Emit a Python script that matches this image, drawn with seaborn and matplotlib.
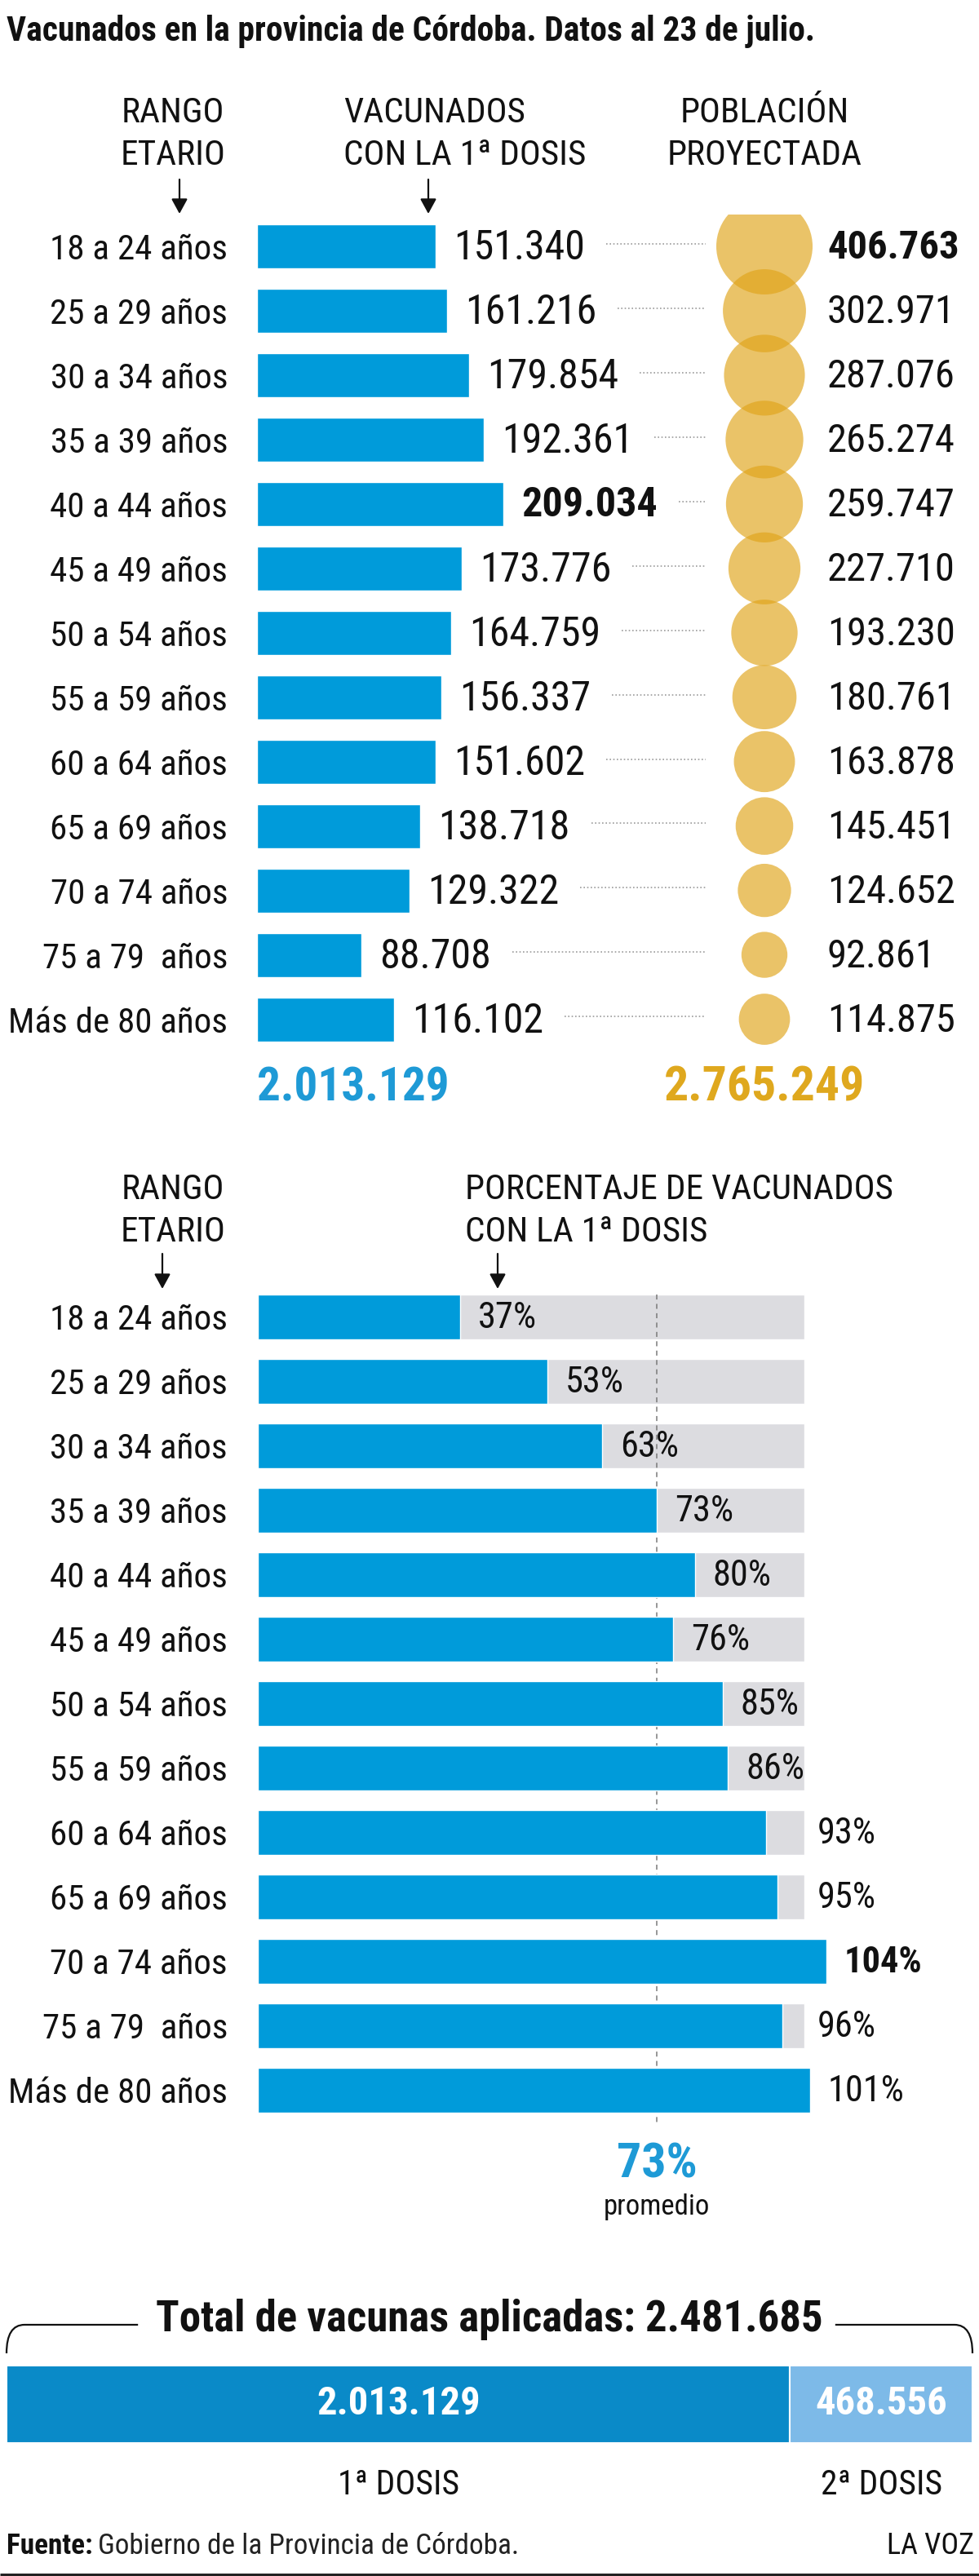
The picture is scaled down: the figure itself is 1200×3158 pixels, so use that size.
import matplotlib
matplotlib.use("Agg")
import matplotlib.pyplot as plt
import matplotlib.transforms as mtransforms
from matplotlib.path import Path
from matplotlib.patches import PathPatch
from matplotlib import font_manager as fm
import numpy as np
import pandas as pd
import seaborn as sns

# ---------------- DATA ----------------
age_groups = ["18 a 24 años", "25 a 29 años", "30 a 34 años", "35 a 39 años",
              "40 a 44 años", "45 a 49 años", "50 a 54 años", "55 a 59 años",
              "60 a 64 años", "65 a 69 años", "70 a 74 años", "75 a 79  años",
              "Más de 80 años"]
vaccinated_1st = [151340, 161216, 179854, 192361, 209034, 173776, 164759,
                  156337, 151602, 138718, 129322, 88708, 116102]
projected_pop = [406763, 302971, 287076, 265274, 259747, 227710, 193230,
                 180761, 163878, 145451, 124652, 92861, 114875]
pct_vaccinated = [37, 53, 63, 73, 80, 76, 85, 86, 93, 95, 104, 96, 101]
full_pct = 100
total_vaccinated_1st = 2013129
total_projected = 2765249
average_pct = 73
first_doses = 2013129
second_doses = 468556
total_applied = 2481685

title = "Vacunados en la provincia de Córdoba. Datos al 23 de julio."
hdr_rango = ["RANGO", "ETARIO"]
hdr_vac = ["VACUNADOS", "CON LA 1ª DOSIS"]
hdr_pob = ["POBLACIÓN", "PROYECTADA"]
hdr_pct = ["PORCENTAJE DE VACUNADOS", "CON LA 1ª DOSIS"]
avg_label = "promedio"
total_title = "Total de vacunas aplicadas: "
dose_labels = ["1ª DOSIS", "2ª DOSIS"]
source_bold = "Fuente:"
source_text = "Gobierno de la Provincia de Córdoba."
brand = "LA VOZ"

# ---------------- STYLE ----------------
sns.set_style("white")
names = {f.name for f in fm.fontManager.ttflist}
FONT, STRETCH = "Roboto", "normal"
for cand in ["Liberation Sans Narrow", "Roboto Condensed", "Arial Narrow",
             "Open Sans Condensed", "DejaVu Sans Condensed"]:
    if cand in names:
        FONT = cand
        break
else:
    for f in fm.fontManager.ttflist:
        if f.name == "DejaVu Sans" and str(f.stretch) in ("condensed", "semi-condensed"):
            FONT, STRETCH = "DejaVu Sans", "condensed"
            break
plt.rcParams["font.family"] = [FONT, "DejaVu Sans"]
plt.rcParams["font.stretch"] = STRETCH
plt.rcParams["text.color"] = "#111111"

BLUE = "#009BDA"
BLUE_TXT = "#1E9AD6"
GOLD = "#E0A41A"
GOLD_TXT = "#DFA81E"
GRAY = "#DCDCE0"
DARK = "#0A8AC8"
LIGHT = "#7DBAE8"
INK = "#111111"


def es(n):
    return f"{n:,}".replace(",", ".")


W, H, DPI = 1200, 3158, 100
PT = 72 / DPI
fig = plt.figure(figsize=(W / DPI, H / DPI), dpi=DPI)
fig.patch.set_facecolor("white")


def px_axes(x0, y0, x1, y1):
    ax = fig.add_axes([x0 / W, 1 - y1 / H, (x1 - x0) / W, (y1 - y0) / H])
    ax.set_facecolor("none")
    return ax


ax0 = px_axes(0, 0, W, H)
ax0.set_xlim(0, W)
ax0.set_ylim(H, 0)
ax0.axis("off")
renderer = fig.canvas.get_renderer()


def text_w(s, fs, weight="normal"):
    t = ax0.text(0, 0, s, fontsize=fs, fontweight=weight)
    w = t.get_window_extent(renderer).width
    t.remove()
    return w


def fit(s, cap_px, width_px, weight="normal"):
    fs = cap_px / 0.72 * PT
    w = text_w(s, fs, weight)
    if w > width_px:
        fs *= width_px / w
    return fs


def arrow(x, y0, y1):
    ax0.annotate("", xy=(x, y1), xytext=(x, y0),
                 arrowprops=dict(arrowstyle="-|>,head_length=0.55,head_width=0.3",
                                 color=INK, lw=1.6, shrinkA=0, shrinkB=0,
                                 mutation_scale=20))


# ---------------- TITLE ----------------
ax0.text(8, 50, title, fontsize=fit(title, 30, 1155, "semibold"),
         fontweight="semibold", ha="left", va="baseline", color=INK)

# ---------------- HEADERS ----------------
hfs = min(fit("CON LA 1ª DOSIS", 33, 298), fit("PROYECTADA", 33, 252),
          fit("PORCENTAJE DE VACUNADOS", 33, 547), fit("ETARIO", 33, 134))
for k, yb in enumerate([150, 202]):
    ax0.text(212, yb, hdr_rango[k], fontsize=hfs, ha="center", va="baseline")
    ax0.text(421, yb, hdr_vac[k], fontsize=hfs, ha="left", va="baseline")
    ax0.text(937, yb, hdr_pob[k], fontsize=hfs, ha="center", va="baseline")
for k, yb in enumerate([1470, 1522]):
    ax0.text(212, yb, hdr_rango[k], fontsize=hfs, ha="center", va="baseline")
    ax0.text(570, yb, hdr_pct[k], fontsize=hfs, ha="left", va="baseline")
arrow(220, 220, 262)
arrow(525, 220, 262)
arrow(199, 1537, 1580)
arrow(610, 1537, 1580)

n = len(age_groups)
df = pd.DataFrame({"grupo": age_groups, "vacunados": vaccinated_1st,
                   "poblacion": projected_pop, "pct": pct_vaccinated})
df["col"] = 0

# ---------------- TOP: BARS + BUBBLES ----------------
ROW1, STEP = 302.0, 78.96
PX_PER_PERSON = 0.001445
top1, bot1 = ROW1 - 0.5 * STEP, ROW1 + (n - 0.5) * STEP
ax1 = px_axes(315, top1, W, bot1)
sns.barplot(data=df, x="vacunados", y="grupo", orient="h", color=BLUE,
            saturation=1, width=54 / STEP, errorbar=None, ax=ax1, zorder=3)
ax1.set_xlim(0, (W - 315) / PX_PER_PERSON)
ax1.set_ylim(n - 0.5, -0.5)
ax1.set_xlabel("")
ax1.set_ylabel("")
ax1.set_xticks([])
sns.despine(ax=ax1, left=True, bottom=True)
rfs = fit("Más de 80 años", 31, 275)
ax1.tick_params(axis="y", length=0, pad=36 * PT, labelsize=rfs, labelcolor=INK)

vfs = fit("151.340", 36, 165)
vmax = max(vaccinated_1st)
val_texts = []
for i, v in enumerate(vaccinated_1st):
    t = ax1.annotate(es(v), xy=(v, i), xytext=(22 * PT, -2 * PT),
                     textcoords="offset points", va="center", ha="left",
                     fontsize=vfs, fontweight="bold" if v == vmax else "normal",
                     color=INK)
    val_texts.append(t)

# dotted leaders from value label to bubble column
inv = ax1.transData.inverted()
for i, t in enumerate(val_texts):
    bb = t.get_window_extent(renderer)
    x_start = inv.transform((bb.x1 + 26, 0))[0]
    x_end = inv.transform((865, 0))[0]
    ax1.plot([x_start, x_end], [i - 0.04, i - 0.04], ls=(0, (1, 1.6)),
             color="#9b9b9b", lw=1.2, zorder=1)

axb = px_axes(867, top1, 1007, bot1)
S_MAX = (2 * 59 * PT) ** 2
sns.scatterplot(data=df, x="col", y="grupo", size="poblacion",
                sizes=(0, S_MAX), size_norm=(0, max(projected_pop)),
                color=GOLD, alpha=0.66, linewidth=0, legend=False, ax=axb)
axb.set_xlim(-0.5, 0.5)
axb.set_ylim(n - 0.5, -0.5)
axb.axis("off")

pfs = min(fit("302.971", 35, 170), fit("406.763", 35, 180, "bold"))
pmax = max(projected_pop)
tr_pop = mtransforms.blended_transform_factory(ax0.transData, axb.transData)
for i, p in enumerate(projected_pop):
    ax0.annotate(es(p), xy=(1014, i), xycoords=tr_pop, xytext=(0, -2 * PT),
                 textcoords="offset points", va="center", ha="left",
                 fontsize=pfs, fontweight="bold" if p == pmax else "normal",
                 color=INK)

# totals
tr_t1 = mtransforms.blended_transform_factory(ax1.transData, ax0.transData)
ax0.text(0, 1350, es(total_vaccinated_1st), transform=tr_t1,
         fontsize=fit(es(total_vaccinated_1st), 43, 236, "heavy"),
         fontweight="heavy", color=BLUE_TXT, ha="left", va="baseline")
ax0.text(937, 1350, es(total_projected),
         fontsize=fit(es(total_projected), 43, 260, "heavy"),
         fontweight="heavy", color=GOLD_TXT, ha="center", va="baseline")

# ---------------- SECOND: PERCENT BARS ----------------
ROW2 = 1614.5
PX_PER_PCT = 6.7
top2, bot2 = ROW2 - 0.5 * STEP, ROW2 + (n - 0.5) * STEP
ax2 = px_axes(316, top2, W, bot2)
sns.barplot(x=[full_pct] * n, y=age_groups, orient="h", color=GRAY,
            saturation=1, width=55 / STEP, errorbar=None, ax=ax2, zorder=1)
sns.barplot(data=df, x="pct", y="grupo", orient="h", color=BLUE,
            saturation=1, width=55 / STEP, errorbar=None, ax=ax2, zorder=3)
ax2.set_xlim(0, (W - 316) / PX_PER_PCT)
ax2.set_ylim(n - 0.5, -0.5)
ax2.set_xlabel("")
ax2.set_ylabel("")
ax2.set_xticks([])
sns.despine(ax=ax2, left=True, bottom=True)
ax2.tick_params(axis="y", length=0, pad=37 * PT, labelsize=rfs, labelcolor=INK)
ax2.plot([average_pct, average_pct], [-0.35, n - 1 + 0.6], ls=(0, (4, 3.5)),
         color="#7a7a7a", lw=1.1, zorder=2)

cfs = fit("53%", 32, 96)
cmax = max(pct_vaccinated)
for i, v in enumerate(pct_vaccinated):
    s = f"{v}%"
    wbold = "bold" if v == cmax else "normal"
    lw_px = text_w(s, cfs, wbold)
    bar_end = v * PX_PER_PCT
    track_end = full_pct * PX_PER_PCT
    if bar_end + 22 + lw_px / 2 <= track_end:
        off = 22
    else:
        off = max(track_end + 16, bar_end + 22) - bar_end
    ax2.annotate(s, xy=(v, i), xytext=(off * PT, -2 * PT),
                 textcoords="offset points", va="center", ha="left",
                 fontsize=cfs, fontweight=wbold, color=INK)

tr_t2 = mtransforms.blended_transform_factory(ax2.transData, ax0.transData)
ax0.text(average_pct, 2670, f"{average_pct}%", transform=tr_t2,
         fontsize=fit("73%", 43, 111, "heavy"), fontweight="heavy",
         color=BLUE_TXT, ha="center", va="baseline")
ax0.text(average_pct, 2715, avg_label, transform=tr_t2,
         fontsize=fit(avg_label, 25, 172), color=INK, ha="center", va="baseline")

# ---------------- TOTAL APPLIED ----------------
tt = total_title + es(total_applied)
ttl = ax0.text(600, 2858, tt, fontsize=fit(tt, 38, 957, "heavy"),
               fontweight="heavy", ha="center", va="baseline", color=INK)
bb = ttl.get_window_extent(renderer)
xl, xr = bb.x0 - 22, bb.x1 + 15
yb, yd = 2850, 2885
for verts in ([(xl, yb), (30, yb), (8, yb), (8, yd)],
              [(xr, yb), (1170, yb), (1192, yb), (1192, yd)]):
    path = Path(verts, [Path.MOVETO, Path.LINETO, Path.CURVE3, Path.CURVE3])
    ax0.add_patch(PathPatch(path, fill=False, lw=1.6, edgecolor=INK))

ax3 = px_axes(8, 2900, 1192, 2995)
ax3.barh(0, first_doses, left=0, height=1, color=DARK, edgecolor="white", lw=1.5)
ax3.barh(0, second_doses, left=first_doses, height=1, color=LIGHT,
         edgecolor="white", lw=1.5)
ax3.set_xlim(0, total_applied)
ax3.set_ylim(-0.5, 0.5)
ax3.axis("off")
sfs = min(fit(es(first_doses), 35, 203, "heavy"), fit(es(second_doses), 35, 188, "heavy"))
tr_t3 = mtransforms.blended_transform_factory(ax3.transData, ax0.transData)
for k, (left, val) in enumerate([(0, first_doses), (first_doses, second_doses)]):
    cx = left + val / 2
    ax3.text(cx, 0, es(val), fontsize=sfs, fontweight="heavy", color="white",
             ha="center", va="center")
    ax0.text(cx, 3058, dose_labels[k], transform=tr_t3,
             fontsize=fit("2ª DOSIS", 30, 157), color=INK, ha="center", va="baseline")

# ---------------- FOOTER ----------------
ffs = fit(source_bold + " " + source_text, 26, 627)
t1 = ax0.text(8, 3131, source_bold, fontsize=ffs, fontweight="bold",
              ha="left", va="baseline", color=INK)
w1 = t1.get_window_extent(renderer).width
ax0.text(8 + w1 + 6, 3131, source_text, fontsize=ffs, ha="left",
         va="baseline", color="#222222")
ax0.text(1194, 3131, brand, fontsize=fit(brand, 26, 119), ha="right",
         va="baseline", color=INK)
ax0.plot([0, W], [3155.5, 3155.5], color="#222222", lw=3 * PT,
         solid_capstyle="butt")

fig.savefig("out.png", dpi=DPI, facecolor="white")
